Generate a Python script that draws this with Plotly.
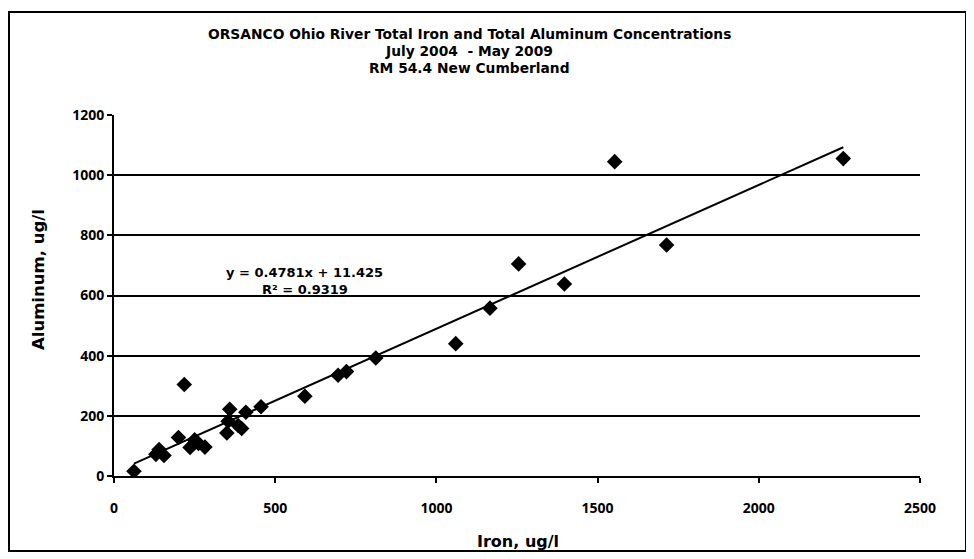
import plotly.graph_objects as go

# Data
iron = [62, 130, 140, 155, 200, 218, 236, 250, 262, 282, 350, 354, 359, 385, 396, 409,
        456, 592, 695, 721, 812, 1060, 1166, 1255, 1397, 1553, 1714, 2262]
aluminum = [16, 72, 88, 68, 128, 304, 95, 120, 108, 96, 143, 182, 222, 168, 158, 212,
            230, 265, 335, 347, 392, 440, 558, 705, 638, 1045, 768, 1055]

slope = 0.4781
intercept = 11.425
r_squared = 0.9319

title_lines = ["ORSANCO Ohio River Total Iron and Total Aluminum Concentrations",
               "July 2004  - May 2009",
               "RM 54.4 New Cumberland"]
x_title = "Iron, ug/l"
y_title = "Aluminum, ug/l"
x_ticks = [0, 500, 1000, 1500, 2000, 2500]
y_ticks = [0, 200, 400, 600, 800, 1000, 1200]

FONT = "DejaVu Sans"
TICK_FONT = "Open Sans"
OFF = 8  # browser body margin
W, H = 974 - OFF, 559 - OFF
# plot area in page pixels: x 114..920, y 115..476
L, R, T, B = 114 - OFF, 974 - 920, 115 - OFF, 559 - 476

x_min, x_max = min(iron), max(iron)
trend_x = [x_min, x_max]
trend_y = [slope * v + intercept for v in trend_x]

fig = go.Figure()
fig.add_trace(go.Scatter(x=trend_x, y=trend_y, mode="lines",
                         line=dict(color="black", width=2), hoverinfo="skip",
                         showlegend=False))
fig.add_trace(go.Scatter(x=iron, y=aluminum, mode="markers",
                         marker=dict(symbol="diamond", size=12, color="black"),
                         showlegend=False))

pw = W - L - R
ph = H - T - B

def px_x(px):
    return (px - OFF - L) / pw

def px_y(py):
    return (H - B - (py - OFF)) / ph

def ann(txt, x, y, size=13, angle=0):
    return dict(text="<b>%s</b>" % txt, x=px_x(x), y=px_y(y), xref="paper",
                yref="paper", showarrow=False, xanchor="center", yanchor="middle",
                textangle=angle, font=dict(family=FONT, size=size, color="black"))

anns = []
for txt, py in zip(title_lines, [34, 51, 68]):
    anns.append(ann(txt, 469, py, size=13.8))
anns.append(ann("y = %sx + %s" % (slope, intercept), 304, 272, size=13))
anns.append(ann("R² = %s" % r_squared, 305, 289, size=13))
anns.append(ann(x_title, 518, 541, size=16))
anns.append(ann(y_title, 38, 280, angle=-90, size=16.5))

fig.update_layout(
    width=W, height=H,
    margin=dict(l=L, r=R, t=T, b=B, pad=0),
    paper_bgcolor="white", plot_bgcolor="white",
    font=dict(family=TICK_FONT, size=14, color="black"),
    annotations=anns,
    shapes=[dict(type="rect", xref="paper", yref="paper",
                 x0=px_x(9), x1=px_x(966), y0=px_y(551), y1=px_y(12),
                 line=dict(color="black", width=2))],
)
fig.update_xaxes(range=[0, 2500], tickvals=x_ticks,
                 ticktext=["<b>%d</b>" % v for v in x_ticks],
                 tickfont=dict(family=TICK_FONT, size=14),
                 showgrid=False, zeroline=False, showline=True, linecolor="black",
                 linewidth=2, ticks="outside", ticklen=5, tickwidth=2, tickcolor="black",
                 ticklabelstandoff=13)
fig.update_yaxes(range=[0, 1200], tickvals=y_ticks,
                 ticktext=["<b>%d</b>" % v for v in y_ticks],
                 tickfont=dict(family=TICK_FONT, size=14),
                 showgrid=True, gridcolor="black", gridwidth=1.5, zeroline=False,
                 showline=True, linecolor="black", linewidth=2, ticks="outside",
                 ticklen=5, tickwidth=2, tickcolor="black")

fig.write_html("out.html")
